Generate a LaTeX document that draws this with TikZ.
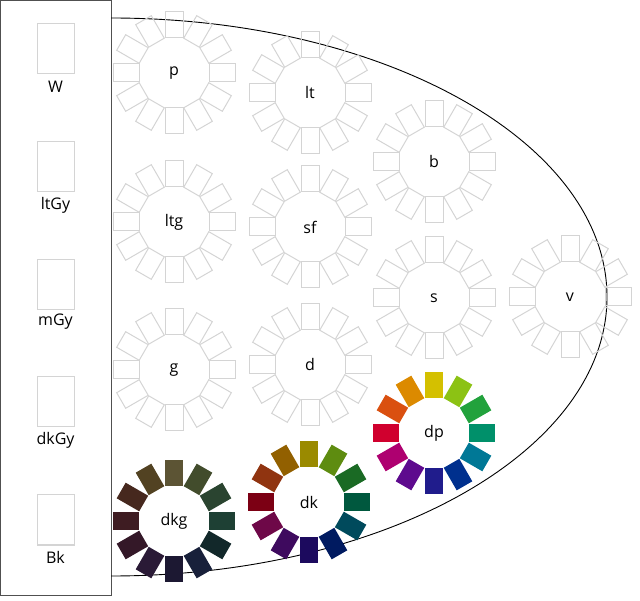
\documentclass[tikz,border=0pt]{standalone}
\usepackage{fontspec}
\setmainfont{Open Sans}
% dp tone
\definecolor{dp0}{HTML}{D4C000}\definecolor{dp1}{HTML}{8CC214}\definecolor{dp2}{HTML}{22A23C}
\definecolor{dp3}{HTML}{00906A}\definecolor{dp4}{HTML}{007896}\definecolor{dp5}{HTML}{00308E}
\definecolor{dp6}{HTML}{201C8C}\definecolor{dp7}{HTML}{5E0A8E}\definecolor{dp8}{HTML}{AE0070}
\definecolor{dp9}{HTML}{D0002E}\definecolor{dp10}{HTML}{DA5010}\definecolor{dp11}{HTML}{DC8A00}
% dk tone
\definecolor{dk0}{HTML}{9A8A00}\definecolor{dk1}{HTML}{5E8C10}\definecolor{dk2}{HTML}{1A6A24}
\definecolor{dk3}{HTML}{00583E}\definecolor{dk4}{HTML}{004A5C}\definecolor{dk5}{HTML}{001A60}
\definecolor{dk6}{HTML}{1C0A5E}\definecolor{dk7}{HTML}{3E0A5E}\definecolor{dk8}{HTML}{6E0848}
\definecolor{dk9}{HTML}{7C0014}\definecolor{dk10}{HTML}{903410}\definecolor{dk11}{HTML}{926000}
% dkg tone
\definecolor{dkg0}{HTML}{5C5434}\definecolor{dkg1}{HTML}{424C2C}\definecolor{dkg2}{HTML}{2A4430}
\definecolor{dkg3}{HTML}{1E4034}\definecolor{dkg4}{HTML}{12282A}\definecolor{dkg5}{HTML}{18203A}
\definecolor{dkg6}{HTML}{1C1832}\definecolor{dkg7}{HTML}{2A1A36}\definecolor{dkg8}{HTML}{341828}
\definecolor{dkg9}{HTML}{3E1C22}\definecolor{dkg10}{HTML}{46281E}\definecolor{dkg11}{HTML}{524222}
\definecolor{ringgray}{HTML}{D4D4D4}
\definecolor{panelgray}{HTML}{505050}
\begin{document}
\begin{tikzpicture}[x=1pt,y=1pt,
  lbl/.style={font=\fontsize{16}{16}\selectfont, text=black, inner sep=0pt},
  swatch/.style={draw=ringgray, line width=1pt, minimum width=37pt, minimum height=50pt, inner sep=0pt},
  ringline/.style={draw=ringgray, line width=1pt},
  graywheel/.pic={\foreach \i in {0,...,11} \draw[ringline, rotate=-30*\i] (-9,35) rectangle (9,61);},
  colorwheel/.pic={\foreach \i in {0,...,11} \fill[fill=#1\i, rotate=-30*\i] (-9,35) rectangle (9,61);}
]
\useasboundingbox (0,0) rectangle (640,600);
% left panel
\draw[panelgray, line width=1pt] (0.5,5) rectangle (111,599.5);
\node[swatch] (W)    at (55.5,551) {};
\node[swatch] (ltGy) at (55.5,433) {};
\node[swatch] (mGy)  at (55.5,315) {};
\node[swatch] (dkGy) at (55.5,198) {};
\node[swatch] (Bk)   at (55.5,80) {};
\node[lbl] (Wl)    at (55.5,513) {W};
\node[lbl] (ltGyl) at (55.5,395) {ltGy};
\node[lbl] (mGyl)  at (55.5,278) {mGy};
\node[lbl] (dkGyl) at (55.5,160) {dkGy};
\node[lbl] (Bkl)   at (55.5,43) {Bk};
% half ellipse
\draw[black, line width=0.9pt] (111,582) arc[start angle=90, end angle=-90, x radius=496, y radius=279];
% gray tone wheels
\foreach \n/\x/\y in {p/174/527, lt/310/507, b/434/438, ltg/174/378, sf/310/373, s/434/302, v/570/303, g/174/230, d/310/235} {
  \pic at (\x,\y) {graywheel};
  \node[lbl] (\n) at (\x,\y) {\n};
}
% coloured tone wheels
\foreach \n/\x/\y in {dp/434/167, dk/309/98, dkg/174/79} {
  \pic at (\x,\y) {colorwheel=\n};
  \node[lbl] (\n) at (\x,\y) {\n};
}
\end{tikzpicture}
\end{document}
